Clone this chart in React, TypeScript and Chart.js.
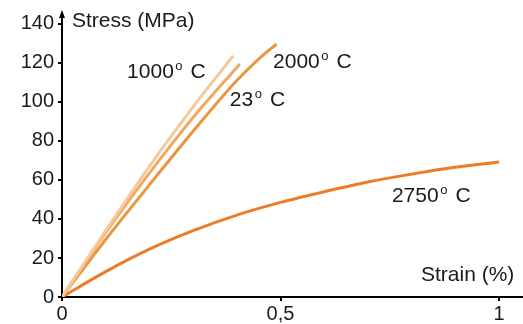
import React, { useEffect, useRef } from "react";
import { Chart, registerables } from "chart.js";

Chart.register(...registerables);

// Data (strain %, stress MPa)
const strain1000 = [0, 0.1, 0.2, 0.3, 0.392];
const stress1000 = [0, 34, 67, 97.5, 123.7];
const strain23 = [0, 0.1, 0.2, 0.3, 0.407];
const stress23 = [0, 33, 63.5, 92, 119.5];
const strain2000 = [0, 0.1, 0.2, 0.3, 0.4, 0.45, 0.491];
const stress2000 = [0, 29.5, 57.5, 85, 111, 122, 129.7];
const strain2750 = [0, 0.1, 0.2, 0.3, 0.4, 0.5, 0.6, 0.7, 0.8, 0.9, 1];
const stress2750 = [0, 13, 24.5, 34, 42, 48.5, 54, 59, 63, 66.5, 69.2];

const xTicks = [0, 0.5, 1];
const xTickLabels = ["0", "0,5", "1"];
const yTicks = [0, 20, 40, 60, 80, 100, 120, 140];

const seriesNames = ["1000", "23", "2000", "2750"];
const xTitle = "Strain (%)";
const yTitle = "Stress (MPa)";

const FONT = "'Liberation Sans', Arial, sans-serif";
const TEXT = "#1a1a1a";

const toPts = (xs: number[], ys: number[]) => xs.map((x, i) => ({ x, y: ys[i] }));

const labelPlugin = {
  id: "labels",
  afterDatasetsDraw(chart: any) {
    const { ctx, scales } = chart;
    const xs = scales.x;
    const ys = scales.y;
    ctx.save();
    ctx.fillStyle = TEXT;
    ctx.textBaseline = "alphabetic";
    ctx.textAlign = "left";
    const temps = [
      { t: seriesNames[0], x: 0.149, y: 112.3 },
      { t: seriesNames[1], x: 0.384, y: 97.9 },
      { t: seriesNames[2], x: 0.483, y: 117.4 },
      { t: seriesNames[3], x: 0.755, y: 48.7 },
    ];
    for (const a of temps) {
      let px = xs.getPixelForValue(a.x);
      const py = ys.getPixelForValue(a.y);
      ctx.font = `21px ${FONT}`;
      ctx.fillText(a.t, px, py);
      px += ctx.measureText(a.t).width + 1.5;
      ctx.font = `13px ${FONT}`;
      ctx.fillText("o", px, py - 8);
      px += ctx.measureText("o").width + 8;
      ctx.font = `21px ${FONT}`;
      ctx.fillText("C", px, py);
    }
    ctx.font = `21px ${FONT}`;
    ctx.fillText(yTitle, xs.getPixelForValue(0.0229), ys.getPixelForValue(138.5));
    ctx.fillText(xTitle, xs.getPixelForValue(0.8215), ys.getPixelForValue(8.2));

    // arrow on top of y axis
    const ax = xs.getPixelForValue(0);
    const top = chart.chartArea.top;
    ctx.fillStyle = "#000";
    ctx.beginPath();
    ctx.moveTo(ax, top - 3);
    ctx.lineTo(ax - 3, top + 5);
    ctx.lineTo(ax + 3, top + 5);
    ctx.closePath();
    ctx.fill();
    ctx.restore();
  },
};

export default function App() {
  const ref = useRef<HTMLCanvasElement | null>(null);
  useEffect(() => {
    if (!ref.current) return;
    const common = {
      borderWidth: 3,
      pointRadius: 0,
      fill: false,
      cubicInterpolationMode: "monotone" as const,
    };
    const chart = new Chart(ref.current, {
      type: "line",
      data: {
        datasets: [
          { ...common, label: seriesNames[0], data: toPts(strain1000, stress1000), borderColor: "#F6C99A" },
          { ...common, label: seriesNames[1], data: toPts(strain23, stress23), borderColor: "#EFAA62" },
          { ...common, label: seriesNames[2], data: toPts(strain2000, stress2000), borderColor: "#EA9640" },
          { ...common, label: seriesNames[3], data: toPts(strain2750, stress2750), borderColor: "#EC7C2A" },
        ],
      },
      options: {
        animation: false,
        responsive: true,
        maintainAspectRatio: false,
        layout: { padding: { left: 0, top: 13, right: 0, bottom: 0 } },
        plugins: { legend: { display: false }, tooltip: { enabled: false } },
        scales: {
          x: {
            type: "linear",
            min: 0,
            max: 1.0549,
            afterBuildTicks: (s: any) => {
              s.ticks = xTicks.map((v) => ({ value: v }));
            },
            afterFit: (s: any) => {
              s.height = 27;
              s.paddingLeft = 0;
              s.paddingRight = 0;
            },
            ticks: {
              autoSkip: false,
              maxRotation: 0,
              padding: 3,
              color: TEXT,
              font: { family: FONT, size: 20, lineHeight: 1 },
              callback: (v: any) => {
                const i = xTicks.indexOf(Number(v));
                return i >= 0 ? xTickLabels[i] : "";
              },
            },
            grid: { drawOnChartArea: false, drawTicks: true, tickLength: 4, color: "#000", lineWidth: 2 },
            border: { display: true, color: "#000", width: 2 },
          },
          y: {
            type: "linear",
            min: 0,
            max: 145.6,
            afterBuildTicks: (s: any) => {
              s.ticks = yTicks.map((v) => ({ value: v }));
            },
            afterFit: (s: any) => {
              s.width = 62;
              s.paddingTop = 0;
              s.paddingBottom = 0;
            },
            ticks: {
              autoSkip: false,
              padding: 4,
              color: TEXT,
              font: { family: FONT, size: 20, lineHeight: 1 },
              callback: (v: any) => String(v),
            },
            grid: { drawOnChartArea: false, drawTicks: true, tickLength: 4, color: "#000", lineWidth: 2 },
            border: { display: true, color: "#000", width: 2 },
          },
        },
      },
      plugins: [labelPlugin],
    });
    return () => chart.destroy();
  }, []);
  return (
    <div style={{ position: "fixed", left: 0, top: 0, width: 523, height: 324, background: "#fff" }}>
      <canvas ref={ref} />
    </div>
  );
}
